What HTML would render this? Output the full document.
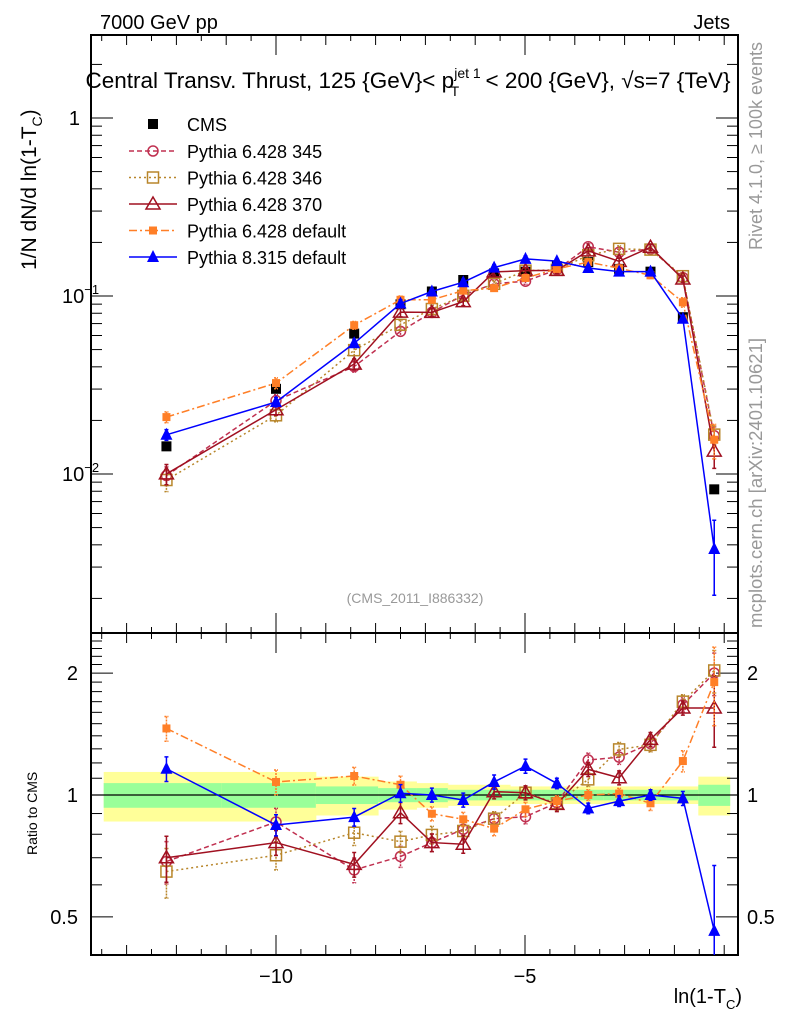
<!DOCTYPE html>
<html><head><meta charset="utf-8">
<style>
html,body{margin:0;padding:0;background:#fff;}
svg{display:block;font-family:"Liberation Sans",sans-serif;}
</style></head>
<body>
<svg id="chart" width="786" height="1024" viewBox="0 0 786 1024">
<defs>
<clipPath id="clipMain"><rect x="91" y="35" width="647" height="598"/></clipPath>
<clipPath id="clipRatio"><rect x="91" y="633" width="647" height="322"/></clipPath>
</defs>
<text x="100" y="29" font-size="20">7000 GeV pp</text>
<text x="730" y="29" font-size="20" text-anchor="end">Jets</text>
<text x="408" y="88" font-size="22.5" text-anchor="middle">Central Transv. Thrust, 125 {GeV}&lt; p<tspan font-size="14" dy="-10">jet 1</tspan><tspan font-size="14" dx="-30" dy="18">T</tspan><tspan dx="20" dy="-8"> &lt; 200 {GeV}, √s=7 {TeV}</tspan></text>
<text transform="translate(762,250) rotate(-90)" font-size="18" fill="#999">Rivet 4.1.0, ≥ 100k events</text>
<text transform="translate(762,628) rotate(-90)" font-size="18.5" fill="#999">mcplots.cern.ch [arXiv:2401.10621]</text>
<text x="415" y="603" font-size="14" fill="#999" text-anchor="middle">(CMS_2011_I886332)</text>
<text transform="translate(36,270) rotate(-90)" font-size="21">1/N    dN/d ln(1-T<tspan font-size="14" dy="6">C</tspan><tspan dy="-6">)</tspan></text>
<text transform="translate(37,855) rotate(-90)" font-size="14">Ratio to CMS</text>
<text x="742" y="1003" font-size="20" text-anchor="end">ln(1-T<tspan font-size="13" dy="6">C</tspan><tspan dy="-6">)</tspan></text>
<g id="g"></g>
</svg>
<script>
const xCenters=[-12.2,-10.0,-8.43,-7.5,-6.87,-6.24,-5.62,-4.99,-4.36,-3.73,-3.11,-2.48,-1.83,-1.2];
const binEdges=[-13.46,-11.1,-9.2,-7.95,-7.18,-6.55,-5.93,-5.3,-4.67,-4.05,-3.42,-2.8,-2.15,-1.52,-0.89];
const cmsValues=[0.0143,0.0301,0.0615,0.0898,0.106,0.123,0.134,0.137,0.147,0.155,0.142,0.137,0.076,0.0082];
const bandTotal=[0.14,0.14,0.11,0.08,0.07,0.06,0.06,0.05,0.05,0.05,0.05,0.05,0.05,0.11];
const bandStat=[0.07,0.07,0.05,0.04,0.04,0.03,0.03,0.03,0.03,0.03,0.03,0.03,0.03,0.06];
const ratio345=[0.685,0.858,0.653,0.705,0.763,0.823,0.874,0.884,0.957,1.22,1.24,1.34,1.67,2.0];
const ratio346=[0.647,0.71,0.807,0.767,0.797,0.815,0.874,1.013,0.954,1.093,1.296,1.33,1.70,2.03];
const ratio370=[0.70,0.763,0.674,0.904,0.763,0.756,1.019,1.013,0.948,1.157,1.103,1.372,1.64,1.64];
const ratioP6def=[1.46,1.077,1.114,1.06,0.899,0.871,0.826,0.922,0.966,1.0,1.008,0.954,1.213,1.9];
const ratioP8def=[1.161,0.843,0.882,1.01,1.0,0.972,1.077,1.179,1.068,0.927,0.966,1.0,0.981,0.462];
const err345=[0.12,0.08,0.07,0.06,0.05,0.05,0.04,0.04,0.04,0.04,0.04,0.04,0.04,0.12];
const err346=[0.14,0.08,0.07,0.06,0.05,0.05,0.04,0.04,0.04,0.04,0.04,0.04,0.04,0.12];
const err370=[0.13,0.07,0.07,0.06,0.05,0.05,0.04,0.04,0.04,0.04,0.04,0.04,0.04,0.2];
const errP6=[0.07,0.07,0.05,0.05,0.04,0.04,0.04,0.04,0.03,0.03,0.03,0.04,0.06,0.22];
const errP8=[0.07,0.06,0.05,0.05,0.04,0.04,0.04,0.04,0.03,0.03,0.03,0.03,0.04,0.45];
const yTickLabels=["1","10","10"];
const ratioTicks=[0.5,1,2];
const xTicks=[-10,-5];

const NS="http://www.w3.org/2000/svg";
const G=document.getElementById('g');
function X(v){return 525+(v+5)*49.8;}
function Y(v){return 118-(Math.log10(v))*178;}
function R(v){return 795-Math.log10(v)*405;}
function el(tag,attrs,parent){const e=document.createElementNS(NS,tag);for(const k in attrs)e.setAttribute(k,attrs[k]);(parent||G).appendChild(e);return e;}

const band=el('g',{'clip-path':'url(#clipRatio)'});


for(let i=0;i<xCenters.length;i++){
  const x0=X(binEdges[i]),x1=X(binEdges[i+1]);
  const r1=el('rect',{x:x0,y:R(1+bandTotal[i]),width:x1-x0+0.5,height:R(1-bandTotal[i])-R(1+bandTotal[i]),fill:'#ffff99'},band);
  
  
  const r2=el('rect',{x:x0,y:R(1+bandStat[i]),width:x1-x0+0.5,height:R(1-bandStat[i])-R(1+bandStat[i]),fill:'#99ff99'},band);
  
  
}
const oneLine=el('line',{x1:91,x2:738,y1:R(1),y2:R(1),stroke:'#000','stroke-width':1.3});



const f1=el('rect',{x:91,y:35,width:647,height:598,fill:'none',stroke:'#000','stroke-width':2});


const f2=el('rect',{x:91,y:633,width:647,height:322,fill:'none',stroke:'#000','stroke-width':2});



for(let v=-13.5;v<=-1;v+=0.5){
  const major=xTicks.includes(v);const len=major?20:(Number.isInteger(v)?10:6);
  for(const [yt,yb] of [[35,633],[633,955]]){
    const t1=el('line',{x1:X(v),x2:X(v),y1:yb,y2:yb-len,stroke:'#000','stroke-width':1});
    
    
    const t2=el('line',{x1:X(v),x2:X(v),y1:yt,y2:yt+len,stroke:'#000','stroke-width':1});
    
    
  }
}
xTicks.forEach(v=>{
  const t=el('text',{x:X(v),y:983,'font-size':20,'text-anchor':'middle'});
  t.textContent='−'+Math.abs(v);
  
  
});
for(let d=-3;d<=0;d++){
  for(let m=1;m<=9;m++){
    const v=m*Math.pow(10,d);const y=Y(v);if(y<35||y>633)continue;
    const len=m===1?22:11;
    const a=el('line',{x1:91,x2:91+len,y1:y,y2:y,stroke:'#000','stroke-width':1});
    
    
    const b=el('line',{x1:738,x2:738-len,y1:y,y2:y,stroke:'#000','stroke-width':1});
    
    
  }
}
[[0,'1',''],[-1,'10','−1'],[-2,'10','−2']].forEach(([d,b,e])=>{
  const t=el('text',{x:e?78:80,y:Y(Math.pow(10,d))+7,'font-size':20,'text-anchor':'end'});
  t.textContent=b;
  if(e){const s=el('tspan',{'font-size':13,dy:-9},t);s.textContent=e;t.setAttribute('x',62);t.setAttribute('text-anchor','start');}
  
  
});
for(let v=0.5;v<=2.5;v+=0.1){
  const y=R(v);if(y<633||y>955)continue;
  const major=ratioTicks.some(t=>Math.abs(t-v)<1e-6);
  const len=major?22:11;
  const a=el('line',{x1:91,x2:91+len,y1:y,y2:y,stroke:'#000','stroke-width':1});
  
  
  const b=el('line',{x1:738,x2:738-len,y1:y,y2:y,stroke:'#000','stroke-width':1});
  
  
}
ratioTicks.forEach(v=>{
  const s=String(v);
  const a=el('text',{x:78,y:R(v)+7,'font-size':20,'text-anchor':'end'});a.textContent=s;
  
  
  const b=el('text',{x:747,y:R(v)+7,'font-size':20});b.textContent=s;
  
  
});

function marker(kind,color,x,y,parent){
  let m;
  if(kind==='sq') m=el('rect',{x:x-5,y:y-5,width:10,height:10,fill:color},parent);
  else if(kind==='fsq') m=el('rect',{x:x-4,y:y-4,width:8,height:8,fill:color},parent);
  else if(kind==='osq') m=el('rect',{x:x-5.5,y:y-5.5,width:11,height:11,fill:'none',stroke:color,'stroke-width':1.5},parent);
  else if(kind==='oc') m=el('circle',{cx:x,cy:y,r:5,fill:'none',stroke:color,'stroke-width':1.5},parent);
  else if(kind==='otr') m=el('path',{d:`M${x},${y-7}L${x+7},${y+5}L${x-7},${y+5}Z`,fill:'none',stroke:color,'stroke-width':1.5},parent);
  else m=el('path',{d:`M${x},${y-7}L${x+6},${y+5}L${x-6},${y+5}Z`,fill:color},parent);
  return m;
}
const series=[
 {name:'pythia-6428-345',ratio:ratio345,err:err345,color:'#c03050',dash:'5,3',mk:'oc',label:'Pythia 6.428 345'},
 {name:'pythia-6428-346',ratio:ratio346,err:err346,color:'#b8862b',dash:'2,3',mk:'osq',label:'Pythia 6.428 346'},
 {name:'pythia-6428-370',ratio:ratio370,err:err370,color:'#a01020',dash:'',mk:'otr',label:'Pythia 6.428 370'},
 {name:'pythia-6428-default',ratio:ratioP6def,err:errP6,color:'#ff7f27',dash:'8,3,2,3',mk:'fsq',label:'Pythia 6.428 default'},
 {name:'pythia-8315-default',ratio:ratioP8def,err:errP8,color:'#0000ff',dash:'',mk:'tr',label:'Pythia 8.315 default'}
];
const mainG=el('g',{'clip-path':'url(#clipMain)'});
const ratG=el('g',{'clip-path':'url(#clipRatio)'});
const cmsG=el('g',{},mainG);


cmsValues.forEach((v,i)=>{
  const m=marker('sq','#000',X(xCenters[i]),Y(v),cmsG);
  
  
});
series.forEach(s=>{
  [[mainG,true],[ratG,false]].forEach(([parent,isMain])=>{
    const g=el('g',{},parent);
    
    
    const pts=s.ratio.map((r,i)=>{
      const val=isMain?cmsValues[i]*r:r;
      const y=isMain?Y(val):R(val);
      const yu=isMain?Y(val*(1+s.err[i])):R(val*(1+s.err[i]));
      const yd=isMain?Y(val*Math.max(0.05,1-s.err[i])):R(val*Math.max(0.05,1-s.err[i]));
      return [X(xCenters[i]),y,yu,yd];
    });
    const ln=el('polyline',{points:pts.map(p=>p[0]+','+p[1]).join(' '),fill:'none',stroke:s.color,'stroke-width':1.5,'stroke-dasharray':s.dash},g);
    
    
    pts.forEach(p=>{
      const e=el('path',{d:`M${p[0]},${p[2]}V${p[3]}M${p[0]-2},${p[2]}H${p[0]+2}M${p[0]-2},${p[3]}H${p[0]+2}`,stroke:s.color,'stroke-width':1.5,'stroke-dasharray':s.dash?'2,1':''},g);
      
      
      const m=marker(s.mk,s.color,p[0],p[1],g);
      
      
    });
  });
});
const leg=el('g',{});


const l0=marker('sq','#000',153,124,leg);


const lt0=el('text',{x:187,y:131,'font-size':18},leg);lt0.textContent='CMS';


series.forEach((s,i)=>{
  const y=151+i*26.5;
  const l=el('line',{x1:129,x2:177,y1:y,y2:y,stroke:s.color,'stroke-width':1.5,'stroke-dasharray':s.dash},leg);
  
  
  const m=marker(s.mk,s.color,153,y,leg);
  
  
  const t=el('text',{x:187,y:y+7,'font-size':18},leg);t.textContent=s.label;
  
  
});
</script>
</body></html>
